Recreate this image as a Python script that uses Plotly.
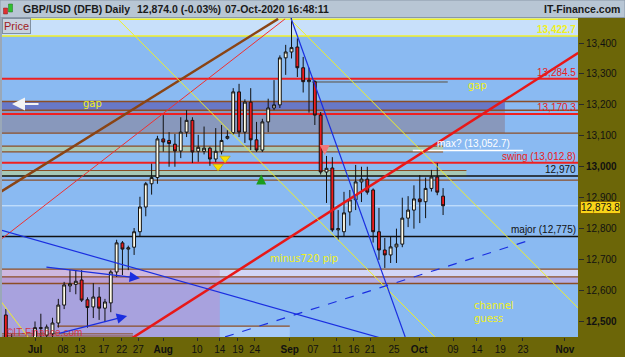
import plotly.graph_objects as go
import pandas as pd

# ---------------- data ----------------
dates = pd.bdate_range("2020-06-24", "2020-10-07")  # daily candles (weekdays)
opens = [12521, 12415, 12425, 12340, 12330,
         12400, 12480, 12456, 12460, 12495, 12553, 12615, 12620, 12634, 12570, 12547, 12579, 12543,
         12560, 12660, 12754, 12734, 12740, 12790, 12870, 12945, 12965, 13090,
         13085, 13073, 13051, 13112, 13150, 13050, 13050, 13060, 13025, 13050, 13092, 13110, 13242,
         13112, 13209, 13087, 13054, 13145, 13190, 13200, 13352,
         13371, 13387, 13320, 13275, 13275, 13167, 12983, 12996, 12796, 12790, 12854, 12893, 12951,
         12960, 12925, 12790, 12731, 12715, 12741, 12750, 12834, 12860,
         12896, 12887, 12930, 12967, 12905]
highs = [12540, 12460, 12440, 12360, 12410,
         12500, 12525, 12490, 12512, 12573, 12628, 12666, 12666, 12666, 12578, 12624, 12611, 12573,
         12666, 12764, 12760, 12745, 12802, 12903, 12951, 13010, 13100, 13167,
         13112, 13106, 13160, 13183, 13160, 13103, 13130, 13065, 13125, 13135, 13118, 13254, 13268,
         13218, 13254, 13145, 13155, 13220, 13280, 13360, 13394,
         13482, 13415, 13355, 13320, 13280, 13177, 13035, 13031, 12860, 12919, 12925, 13006, 13000,
         13000, 12930, 12867, 12770, 12773, 12800, 12900, 12905, 12940,
         12973, 12965, 12990, 13012, 12931]
lows = [12400, 12390, 12330, 12250, 12260,
        12380, 12440, 12440, 12450, 12480, 12540, 12595, 12588, 12563, 12480, 12511, 12505, 12498,
        12530, 12644, 12650, 12666, 12715, 12773, 12840, 12910, 12945, 13049,
        13000, 13000, 13028, 13096, 13012, 13016, 13040, 13003, 13015, 13040, 13088, 13103, 13096,
        13077, 13054, 13048, 13048, 13112, 13183, 13190, 13297,
        13350, 13290, 13240, 13175, 13135, 12975, 12883, 12790, 12764, 12775, 12810, 12860, 12886,
        12910, 12755, 12699, 12673, 12689, 12689, 12740, 12805, 12800,
        12818, 12834, 12920, 12908, 12844]
closes = [12415, 12425, 12340, 12330, 12400,
          12480, 12478, 12482, 12495, 12553, 12618, 12622, 12630, 12569, 12545, 12579, 12543, 12563,
          12660, 12754, 12734, 12738, 12790, 12870, 12945, 12965, 13090, 13080,
          13075, 13051, 13112, 13150, 13048, 13063, 13060, 13025, 13050, 13085, 13098, 13242, 13112,
          13209, 13087, 13054, 13145, 13190, 13200, 13352, 13371,
          13385, 13320, 13275, 13280, 13167, 12983, 12995, 12796, 12800, 12851, 12893, 12951, 12960,
          12918, 12790, 12731, 12715, 12741, 12750, 12834, 12860, 12896,
          12887, 12930, 12967, 12918, 12874]
x_idx = list(range(-5, len(dates) - 5))  # trading-day index, 0 = 1 Jul 2020

x_tick_pos = [0, 4.8, 7.7, 11.8, 14.9, 17.7, 22.0, 27.8, 31.7, 34.8, 37.7, 43.7, 47.7, 51.8,
              54.7, 57.5, 61.6, 65.9, 71.7, 75.8, 79.8, 83.7, 90.9]
x_tick_text = ["<b>Jul</b>", "08", "13", "17", "22", "27", "<b>Aug</b>", "10", "14", "19", "24",
               "<b>Sep</b>", "07", "11", "16", "21", "25", "<b>Oct</b>", "09", "14", "19", "23",
               "<b>Nov</b>"]
y_tick_vals = [12500, 12600, 12700, 12800, 12900, 13000, 13100, 13200, 13300, 13400]
y_tick_text = ["<b>12,500</b>", "12,600", "12,700", "12,800", "12,900", "<b>13,000</b>",
               "13,100", "13,200", "13,300", "13,400"]

last_price = 12873.8
sig_down_x, sig_down_y = [31.4, 32.6], [13001, 13027]
sig_up_x, sig_up_y = [38.8], [12975]
sig_sell_x, sig_sell_y = [49.7], [13038]

X_RANGE = [-5.66, 93.14]
Y_RANGE = [12449.8, 13480.8]

# ---------------- figure ----------------
fig = go.Figure()
fig.add_trace(go.Candlestick(
    x=x_idx, open=opens, high=highs, low=lows, close=closes,
    increasing=dict(line=dict(color="#111111", width=1), fillcolor="#fffbe6"),
    decreasing=dict(line=dict(color="#111111", width=1), fillcolor="#ee1c1c"),
    whiskerwidth=0, showlegend=False, hoverinfo="skip"))
fig.add_trace(go.Scatter(x=sig_down_x, y=sig_down_y, mode="markers", showlegend=False,
                         marker=dict(symbol="triangle-down", size=9, color="#f8e000",
                                     line=dict(color="#b09000", width=0.5))))
fig.add_trace(go.Scatter(x=sig_up_x, y=sig_up_y, mode="markers", showlegend=False,
                         marker=dict(symbol="arrow-up", size=10, color="#1c9c1c")))
fig.add_trace(go.Scatter(x=sig_sell_x, y=sig_sell_y, mode="markers", showlegend=False,
                         marker=dict(symbol="arrow-down", size=10, color="#f07878")))

shapes = []
BROWN = "#8c4e26"
RED = "#ee2020"
YEL = "#f0f028"
BLUE = "#1a2ee0"


def rect(x0, x1, y0, y1, color, layer="below"):
    shapes.append(dict(type="rect", xref="x", yref="y", x0=x0, x1=x1, y0=y0, y1=y1,
                       fillcolor=color, line=dict(width=0), layer=layer))


def hline(y, color, width, x0=-10, x1=100, layer="below"):
    shapes.append(dict(type="line", xref="x", yref="y", x0=x0, x1=x1, y0=y, y1=y,
                       line=dict(color=color, width=width), layer=layer))


def seg(x0, y0, x1, y1, color, width, dash="solid"):
    shapes.append(dict(type="line", xref="x", yref="y", x0=x0, x1=x1, y0=y0, y1=y1,
                       line=dict(color=color, width=width, dash=dash), layer="above"))


# zones
rect(-10, 100, 13422.7, 13500, "#c8e0fa")
rect(-10, 80.6, 13109, 13183, "#8898bc")
rect(-10, 80.6, 13183, 13211, "#6878c8")
rect(-10, 70.0, 13048, 13067, "#a6c8b6")
rect(-10, 74.0, 12967, 12988, "#a6c8b6")
rect(-10, 31.7, 12400, 12623, "#a8a2de")
rect(-10, 100, 12644, 12669, "#d2d6f6")
rect(-10, 100, 12623, 12644, "#b2aee6")
rect(-10, 31.7, 12623, 12669, "rgba(200,130,180,0.35)")
rect(31.7, 43.7, 12400, 12485, "#a6caf8")

# horizontal levels
hline(13477, YEL, 1.5)
hline(13422.7, YEL, 1.5)
hline(13284.5, RED, 2)
hline(13274, "#5a5040", 1, x0=47.5, x1=70.8)
hline(13211, BROWN, 1.5)
hline(13183, BROWN, 1.5)
hline(13170.3, RED, 2)
hline(13109, BROWN, 1.2)
hline(13067, BROWN, 1.2, x1=70)
hline(13048, BROWN, 1.2, x1=70)
hline(13052.7, "#ffffff", 1.5, x0=64.8, x1=83.7)
hline(13012.8, RED, 2)
hline(12988, BROWN, 1.2, x1=74)
hline(12970, "#111111", 1.5)
hline(12957, BROWN, 1.2)
hline(last_price, "#d4ecff", 1)
hline(12775, "#111111", 1.5)
hline(12669, BROWN, 1.2)
hline(12644, BROWN, 1.2)
hline(12623, BROWN, 1.5)
hline(12485, BROWN, 1.2, x0=3.8, x1=43.7)
hline(12460, BROWN, 1, x1=16.8)
hline(12453, BROWN, 1, x1=16.8)

# trend lines
seg(-6.0, 12918, 41.7, 13478, "#8a4414", 2.5)
seg(-6.0, 12763, 42.9, 13478, "#f03030", 1)
seg(15.9, 12437, 93.2, 13368, "#e81818", 2.5)
seg(14.2, 13478, 68.6, 12450, YEL, 1)
seg(43.7, 13478, 93.2, 12543, YEL, 1)
seg(-6.0, 12569, -1.2, 12450, YEL, 1)
seg(43.9, 13481, 63.5, 12450, BLUE, 1.2)
seg(-6.0, 12796, 59.2, 12447, BLUE, 1.2)
seg(32.6, 12450, 84.9, 12763, BLUE, 1.2, dash="dash")


def px_x(px):
    return (px - 2) / 576.0


def px_y(py):
    return (337 - py) / 319.0


# chrome: title bar, left strip
shapes.append(dict(type="rect", xref="paper", yref="paper", x0=px_x(0), x1=px_x(625),
                   y0=px_y(17.5), y1=px_y(0), fillcolor="#b8c6d4",
                   line=dict(color="#8a98a8", width=1), layer="above"))
shapes.append(dict(type="rect", xref="paper", yref="paper", x0=px_x(0), x1=px_x(2),
                   y0=px_y(337), y1=px_y(17.5), fillcolor="#9aa8b8", line=dict(width=0)))
# small candle icon in title bar
shapes.append(dict(type="rect", xref="paper", yref="paper", x0=px_x(3.5), x1=px_x(7.5),
                   y0=px_y(14), y1=px_y(8), fillcolor="#e03030", line=dict(color="#802020", width=0.5)))
shapes.append(dict(type="rect", xref="paper", yref="paper", x0=px_x(8.5), x1=px_x(12.5),
                   y0=px_y(12), y1=px_y(4), fillcolor="#30c030", line=dict(color="#207020", width=0.5)))

ann = []


def txt(x, y, text, color, size=10, xanchor="center", yanchor="middle", xref="x", yref="y",
        bold=False, font="DejaVu Sans", **kw):
    if bold:
        text = "<b>" + text + "</b>"
    ann.append(dict(x=x, y=y, xref=xref, yref=yref, text=text, showarrow=False,
                    xanchor=xanchor, yanchor=yanchor,
                    font=dict(color=color, size=size, family=font), **kw))


# level labels (right aligned at plot edge)
txt(1, 13422.7, "13,422.7", "#f0f020", 10, xanchor="right", yanchor="bottom", xref="paper",
    font="Liberation Sans", bold=True, yshift=-1)
txt(1, 13284.5, "13,284.5", "#e82020", 10, xanchor="right", yanchor="bottom", xref="paper",
    font="Liberation Sans", yshift=-1)
txt(1, 13170.3, "13,170.3", "#e82020", 10, xanchor="right", yanchor="bottom", xref="paper",
    font="Liberation Sans", yshift=-1)
txt(px_x(473), 13052.7, "max? (13,052.7)", "#ffffff", 10, yanchor="bottom", xref="paper",
    font="Liberation Sans", yshift=-1)
txt(1, 13012.8, "swing (13,012.8)", "#e82020", 10, xanchor="right", yanchor="bottom",
    xref="paper", font="Liberation Sans", yshift=-1)
txt(1, 12970, "12,970", "#111111", 10, xanchor="right", yanchor="bottom", xref="paper",
    font="Liberation Sans", yshift=-1)
txt(1, 12775, "major (12,775)", "#111111", 10, xanchor="right", yanchor="bottom",
    xref="paper", font="Liberation Sans", yshift=-1)
txt(px_x(477), 13262, "gap", "#f0f020", 10, xref="paper")
txt(px_x(92), 13203, "gap", "#f0f020", 10, xref="paper")
txt(px_x(268), 12705, "minus720 pip", "#f0f020", 10, xanchor="left", xref="paper")
txt(px_x(472), 12531, "channel<br>guess", "#f0f020", 10, xanchor="left", xref="paper",
    align="left")
txt(px_x(4), px_y(332), "©IT-Finance.com", "rgba(215,40,50,0.9)", 10, xanchor="left",
    xref="paper", yref="paper", font="Liberation Sans")

# arrows
ann.append(dict(x=-3.95, y=13203, ax=0.86, ay=13203, xref="x", yref="y", axref="x", ayref="y",
                text="", showarrow=True, arrowhead=2, arrowsize=1.3, arrowwidth=2,
                arrowcolor="#f4f4f4"))
ann.append(dict(x=18.0, y=12640, ax=1.7, ay=12676, xref="x", yref="y", axref="x", ayref="y",
                text="", showarrow=True, arrowhead=2, arrowsize=1.6, arrowwidth=1.3,
                arrowcolor=BLUE))
ann.append(dict(x=15.8, y=12518, ax=3.9, ay=12460, xref="x", yref="y", axref="x", ayref="y",
                text="", showarrow=True, arrowhead=2, arrowsize=1.6, arrowwidth=1.3,
                arrowcolor=BLUE))

# price box
ann.append(dict(x=0, y=1, xref="paper", yref="paper", xanchor="left", yanchor="top",
                text="Price", showarrow=False, bgcolor="#c8d2de", bordercolor="#8090a0",
                borderwidth=1, borderpad=1,
                font=dict(color="#a01c1c", size=11, family="Liberation Sans")))
# last price tag
ann.append(dict(x=1, y=last_price, xref="paper", yref="y", xanchor="left", yanchor="top",
                xshift=2, yshift=5, text="12,873.8", showarrow=False, bgcolor="#f8d418",
                bordercolor="#806000", borderwidth=1, borderpad=0,
                font=dict(color="#111111", size=10, family="Liberation Sans")))

# title bar text
TF = dict(color="#1a1a1a", size=10.5, family="Liberation Sans")
for xp, t in [(21, "GBP/USD (DFB)"), (103, "Daily"), (135, "12,874.0 (-0.03%)"),
              (223, "07-Oct-2020 16:48:11")]:
    ann.append(dict(x=px_x(xp), y=px_y(9), xref="paper", yref="paper", xanchor="left",
                    yanchor="middle", text="<b>" + t + "</b>", showarrow=False, font=TF))
ann.append(dict(x=px_x(622), y=px_y(9), xref="paper", yref="paper", xanchor="right",
                yanchor="middle", text="<b>IT-Finance.com</b>", showarrow=False, font=TF))

fig.update_layout(
    width=625, height=357,
    margin=dict(l=2, r=47, t=18, b=20),
    paper_bgcolor="#6c6608",
    plot_bgcolor="#8abaf2",
    shapes=shapes, annotations=ann,
    showlegend=False,
    xaxis=dict(range=X_RANGE, showgrid=False, zeroline=False, rangeslider=dict(visible=False),
               tickmode="array", tickvals=x_tick_pos, ticktext=x_tick_text,
               ticks="outside", ticklen=3, tickcolor="#2a2a2a",
               tickfont=dict(size=10, color="#111111", family="Liberation Sans"),
               showline=False, fixedrange=True),
    yaxis=dict(range=Y_RANGE, side="right", showgrid=False, zeroline=False,
               tickmode="array", tickvals=y_tick_vals, ticktext=y_tick_text,
               ticks="outside", ticklen=5, tickcolor="#2a2a2a",
               tickfont=dict(size=10, color="#111111", family="Liberation Sans"),
               showline=False, fixedrange=True),
)

fig.write_html("out.html")
